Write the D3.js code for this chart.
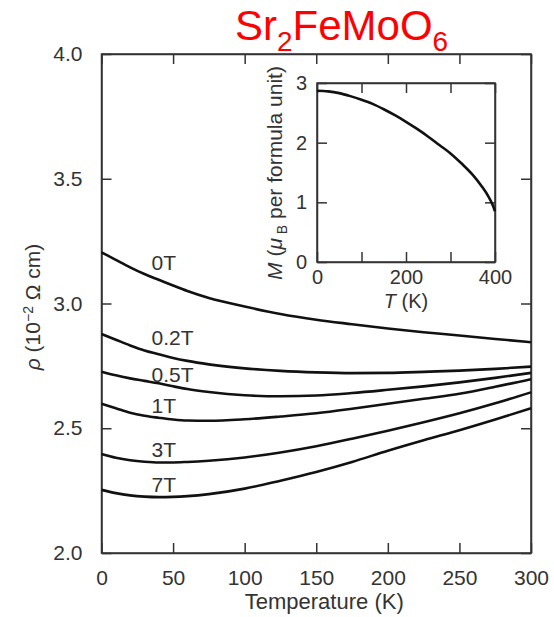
<!DOCTYPE html>
<html lang="en">
<head>
    <meta charset="UTF-8">
    <title>Sr2FeMoO6 resistivity vs temperature</title>
    <script src="https://d3js.org/d3.v7.min.js"></script>
    <style>
        body { margin: 0; background: #fff; }
        svg { font-family: "Liberation Sans", Arial, sans-serif; }
        .curve { fill: none; stroke: #111; stroke-width: 2.6px; }
        .axis path, .axis line { stroke: #333; stroke-width: 1.5px; }
        .axis text { font-size: 21px; fill: #333; }
        .inset-axis text { font-size: 20px; }
        .frame { fill: none; stroke: #333; stroke-width: 1.5px; }
        .label { font-size: 21px; fill: #333; }
        .title { font-size: 42px; fill: #ff0000; }
    </style>
</head>
<body>
    <svg width="554" height="617"></svg>

    <script>
        // Data: resistivity (10^-2 ohm cm) vs temperature (K) for each field
        const temps = [0, 10, 20, 30, 40, 50, 60, 75, 100, 125, 150, 175, 200, 225, 250, 275, 300];
        const fields = ["0T", "0.2T", "0.5T", "1T", "3T", "7T"];
        const rho0T  = [3.205, 3.175, 3.145, 3.118, 3.095, 3.072, 3.050, 3.022, 2.988, 2.958, 2.935, 2.917, 2.900, 2.885, 2.872, 2.858, 2.845];
        const rho02T = [2.878, 2.855, 2.832, 2.812, 2.797, 2.782, 2.770, 2.756, 2.740, 2.730, 2.724, 2.721, 2.722, 2.726, 2.731, 2.738, 2.747];
        const rho05T = [2.727, 2.712, 2.700, 2.690, 2.680, 2.668, 2.657, 2.645, 2.632, 2.628, 2.631, 2.641, 2.654, 2.668, 2.684, 2.702, 2.722];
        const rho1T  = [2.598, 2.580, 2.562, 2.550, 2.542, 2.535, 2.531, 2.530, 2.536, 2.547, 2.560, 2.578, 2.598, 2.618, 2.638, 2.666, 2.697];
        const rho3T  = [2.397, 2.382, 2.372, 2.366, 2.363, 2.363, 2.365, 2.370, 2.383, 2.403, 2.428, 2.458, 2.490, 2.524, 2.560, 2.600, 2.644];
        const rho7T  = [2.253, 2.240, 2.231, 2.226, 2.224, 2.225, 2.228, 2.236, 2.258, 2.290, 2.325, 2.365, 2.410, 2.452, 2.492, 2.535, 2.580];
        const rhoSeries = [rho0T, rho02T, rho05T, rho1T, rho3T, rho7T];

        // Inset: magnetization (muB per formula unit) vs T
        const insetT = [0, 25, 50, 75, 100, 125, 150, 175, 200, 225, 250, 275, 300, 325, 350, 370, 385, 395, 400];
        const insetM = [2.87, 2.86, 2.83, 2.78, 2.72, 2.65, 2.56, 2.46, 2.35, 2.23, 2.10, 1.96, 1.82, 1.65, 1.46, 1.27, 1.10, 0.95, 0.85];

        const xTicks = [0, 50, 100, 150, 200, 250, 300];
        const yTicks = [2.0, 2.5, 3.0, 3.5, 4.0];
        const insetXTicks = [0, 100, 200, 300, 400];
        const insetYTicks = [0, 1, 2, 3];

        const svg = d3.select("svg");

        // Main plot scales
        const x = d3.scaleLinear().domain([0, 300]).range([101.5, 531]);
        const y = d3.scaleLinear().domain([2, 4]).range([553, 54]);

        // Frame
        svg.append("rect")
            .attr("class", "frame")
            .attr("x", x(0)).attr("y", y(4))
            .attr("width", x(300) - x(0)).attr("height", y(2) - y(4));

        // Axes, ticks pointing inward
        svg.append("g")
            .attr("class", "axis")
            .attr("transform", "translate(0," + y(2) + ")")
            .call(d3.axisBottom(x).tickValues(xTicks).tickSizeInner(-10).tickSizeOuter(0).tickPadding(17));

        svg.append("g")
            .attr("class", "axis")
            .attr("transform", "translate(0," + y(4) + ")")
            .call(d3.axisTop(x).tickValues(xTicks).tickSizeInner(-10).tickSizeOuter(0).tickFormat(""));

        svg.append("g")
            .attr("class", "axis")
            .attr("transform", "translate(" + x(0) + ",0)")
            .call(d3.axisLeft(y).tickValues(yTicks).tickFormat(d3.format(".1f")).tickSizeInner(-10).tickSizeOuter(0).tickPadding(19));

        svg.append("g")
            .attr("class", "axis")
            .attr("transform", "translate(" + x(300) + ",0)")
            .call(d3.axisRight(y).tickValues(yTicks).tickSizeInner(-10).tickSizeOuter(0).tickFormat(""));

        // Curves
        const line = d3.line()
            .x(d => x(d[0]))
            .y(d => y(d[1]))
            .curve(d3.curveMonotoneX);

        rhoSeries.forEach(vals => {
            svg.append("path")
                .datum(temps.map((t, i) => [t, vals[i]]))
                .attr("class", "curve")
                .attr("d", line);
        });

        // Field labels (T, rho of text baseline)
        const labelAt = [[35, 3.134], [35, 2.834], [35, 2.685], [35, 2.561], [35, 2.385], [35, 2.245]];
        fields.forEach((f, i) => {
            svg.append("text")
                .attr("class", "label")
                .attr("x", x(labelAt[i][0]))
                .attr("y", y(labelAt[i][1]))
                .text(f);
        });

        // Axis titles
        svg.append("text")
            .attr("class", "label")
            .style("font-size", "22px")
            .attr("x", (x(0) + x(300)) / 2 + 8)
            .attr("y", 609)
            .style("text-anchor", "middle")
            .text("Temperature (K)");

        const yTitle = svg.append("text")
            .attr("class", "label")
            .attr("transform", "translate(40," + 307 + ") rotate(-90)")
            .style("text-anchor", "middle");
        yTitle.append("tspan").style("font-style", "italic").text("ρ");
        yTitle.append("tspan").text(" (10");
        yTitle.append("tspan").attr("dy", -7).style("font-size", "14px").text("−2");
        yTitle.append("tspan").attr("dy", 7).text(" Ω cm)");

        // Title
        const title = svg.append("text")
            .attr("class", "title")
            .attr("x", 235)
            .attr("y", 40);
        title.append("tspan").text("Sr");
        title.append("tspan").attr("dy", 11).style("font-size", "28px").text("2");
        title.append("tspan").attr("dy", -11).text("FeMoO");
        title.append("tspan").attr("dy", 11).style("font-size", "28px").text("6");

        // Inset
        const ix = d3.scaleLinear().domain([0, 400]).range([317, 495]);
        const iy = d3.scaleLinear().domain([0, 3]).range([262, 83]);

        svg.append("rect")
            .attr("class", "frame")
            .attr("x", ix(0)).attr("y", iy(3))
            .attr("width", ix(400) - ix(0)).attr("height", iy(0) - iy(3));

        svg.append("g")
            .attr("class", "axis inset-axis")
            .attr("transform", "translate(0," + iy(0) + ")")
            .call(d3.axisBottom(ix).tickValues(insetXTicks).tickSizeInner(-10).tickSizeOuter(0).tickPadding(8)
                .tickFormat(d => d % 200 === 0 ? d : ""));

        svg.append("g")
            .attr("class", "axis inset-axis")
            .attr("transform", "translate(0," + iy(3) + ")")
            .call(d3.axisTop(ix).tickValues(insetXTicks).tickSizeInner(-10).tickSizeOuter(0).tickFormat(""));

        svg.append("g")
            .attr("class", "axis inset-axis")
            .attr("transform", "translate(" + ix(0) + ",0)")
            .call(d3.axisLeft(iy).tickValues(insetYTicks).tickFormat(d3.format("d")).tickSizeInner(-10).tickSizeOuter(0).tickPadding(10));

        svg.append("g")
            .attr("class", "axis inset-axis")
            .attr("transform", "translate(" + ix(400) + ",0)")
            .call(d3.axisRight(iy).tickValues(insetYTicks).tickSizeInner(-10).tickSizeOuter(0).tickFormat(""));

        const insetLine = d3.line()
            .x(d => ix(d[0]))
            .y(d => iy(d[1]))
            .curve(d3.curveMonotoneX);

        svg.append("path")
            .datum(insetT.map((t, i) => [t, insetM[i]]))
            .attr("class", "curve")
            .attr("d", insetLine);

        const itx = svg.append("text")
            .attr("class", "label")
            .style("font-size", "20px")
            .attr("x", (ix(0) + ix(400)) / 2)
            .attr("y", 308)
            .style("text-anchor", "middle");
        itx.append("tspan").style("font-style", "italic").text("T");
        itx.append("tspan").text(" (K)");

        const ity = svg.append("text")
            .attr("class", "label")
            .attr("transform", "translate(282," + 173 + ") rotate(-90)")
            .style("text-anchor", "middle");
        ity.append("tspan").style("font-style", "italic").text("M");
        ity.append("tspan").text(" (");
        ity.append("tspan").style("font-style", "italic").text("μ");
        ity.append("tspan").attr("dy", 5).style("font-size", "14px").text(" B");
        ity.append("tspan").attr("dy", -5).text(" per formula unit)");
    </script>
</body>
</html>
